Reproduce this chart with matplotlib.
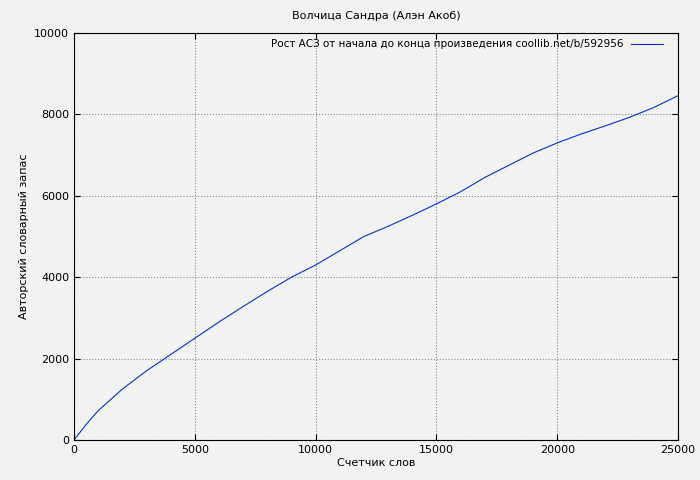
import matplotlib
matplotlib.use("Agg")
import matplotlib.pyplot as plt

words = [0, 500, 1000, 2000, 3000, 4000, 5000, 6000, 7000, 8000, 9000, 10000, 11000, 12000,
         13000, 14000, 15000, 16000, 17000, 18000, 19000, 20000, 21000, 22000, 23000, 24000, 25000]
vocab = [0, 380, 720, 1250, 1700, 2100, 2500, 2900, 3280, 3650, 4000, 4300, 4650, 5000,
         5250, 5520, 5800, 6100, 6450, 6750, 7050, 7300, 7520, 7720, 7930, 8170, 8460]

plt.rcParams['font.family'] = ['DejaVu Sans']
fig = plt.figure(figsize=(7, 4.8), dpi=100, facecolor='#f2f2f2')
ax = fig.add_axes([74/700, 1-440/480, 604/700, 407/480])
ax.set_facecolor('#f2f2f2')
ax.plot(words, vocab, color='#0033cc', lw=0.8,
        label='Рост АСЗ от начала до конца произведения coollib.net/b/592956')
ax.set_xlim(0, 25000)
ax.set_ylim(0, 10000)
ax.set_xticks(range(0, 25001, 5000))
ax.set_yticks(range(0, 10001, 2000))
ax.tick_params(labelsize=8, direction='in', length=4, top=True, right=True)
ax.grid(True, color='#888888', ls=':', lw=0.8)
ax.set_title('Волчица Сандра (Алэн Акоб)', fontsize=8, pad=10)
ax.set_xlabel('Счетчик слов', fontsize=8, labelpad=2)
ax.set_ylabel('Авторский словарный запас', fontsize=8)
leg = ax.legend(loc='upper right', fontsize=7.5, frameon=False, markerfirst=False,
                handlelength=3, borderaxespad=0.2, bbox_to_anchor=(0.985, 1.0))
fig.savefig('out.png', dpi=100, facecolor='#f2f2f2')
